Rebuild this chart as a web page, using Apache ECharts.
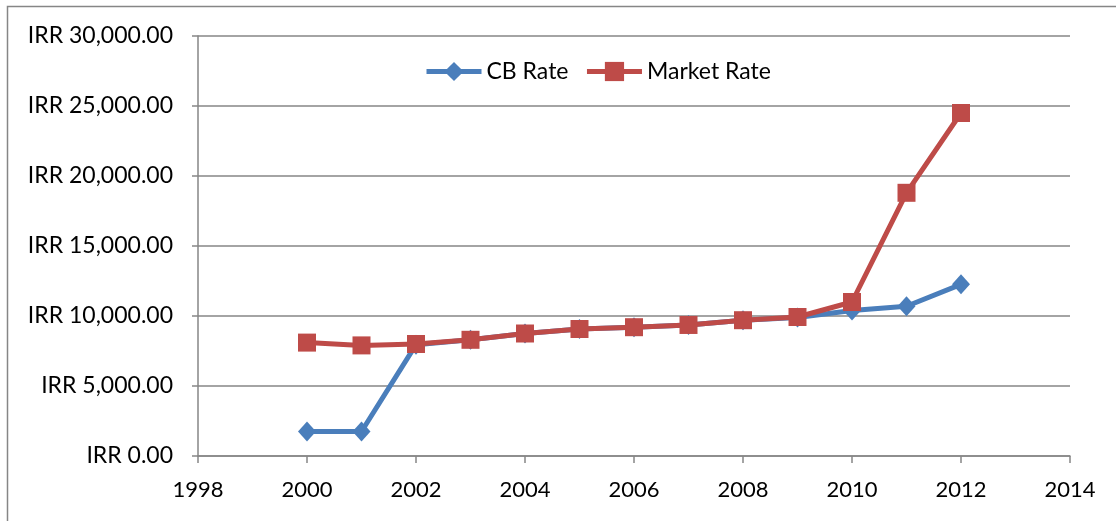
<!DOCTYPE html>
<html>
<head>
<meta charset="utf-8">
<script src="https://cdn.jsdelivr.net/npm/echarts@6/dist/echarts.min.js"></script>
<style>
  html, body { margin: 0; padding: 0; background: #fff; }
  #chart { width: 1116px; height: 521px; }
</style>
</head>
<body>
<div id="chart"></div>
<script>
var years = [2000, 2001, 2002, 2003, 2004, 2005, 2006, 2007, 2008, 2009, 2010, 2011, 2012];
var cbRate = [1750, 1750, 7950, 8300, 8750, 9070, 9200, 9360, 9700, 9900, 10400, 10700, 12260];
var marketRate = [8100, 7900, 8000, 8300, 8750, 9070, 9200, 9360, 9700, 9930, 11000, 18800, 24500];

function pairs(vals) {
  var out = [];
  for (var i = 0; i < years.length; i++) {
    out.push([years[i], vals[i]]);
  }
  return out;
}

function irr(v) {
  var s = v.toFixed(2).split(".");
  return "IRR " + s[0].replace(/\B(?=(\d{3})+(?!\d))/g, ",") + "." + s[1];
}

var chart = echarts.init(document.getElementById("chart"));
var font = "Lato, 'Open Sans', sans-serif";

chart.setOption({
  animation: false,
  textStyle: { fontFamily: font },
  graphic: [
    {
      type: "rect",
      shape: { x: 7.5, y: 6.5, width: 1120, height: 530 },
      style: { fill: "none", stroke: "#868686", lineWidth: 1.5 },
      silent: true
    }
  ],
  legend: {
    top: 55,
    left: 419,
    itemWidth: 55,
    itemHeight: 24,
    itemGap: 16,
    lineStyle: { width: 5 },
    textStyle: { fontSize: 23, color: "#000", fontFamily: font },
    data: ["CB Rate", "Market Rate"]
  },
  grid: { left: 198, right: 46, top: 36, bottom: 65 },
  xAxis: {
    type: "value",
    min: 1998,
    max: 2014,
    interval: 2,
    axisLine: { lineStyle: { color: "#868686", width: 1.5 } },
    axisTick: { show: true, length: 7, lineStyle: { color: "#868686", width: 1.5 } },
    axisLabel: { fontSize: 22, color: "#000", margin: 23, fontFamily: font, formatter: function (v) { return String(v); } },
    splitLine: { show: false }
  },
  yAxis: {
    type: "value",
    min: 0,
    max: 30000,
    interval: 5000,
    axisLine: { show: true, lineStyle: { color: "#868686", width: 1.5 } },
    axisTick: { show: true, length: 6, lineStyle: { color: "#868686", width: 1.5 } },
    axisLabel: { fontSize: 23, color: "#000", margin: 25, fontFamily: font, formatter: irr },
    splitLine: { lineStyle: { color: "#868686", width: 1.5 } }
  },
  series: [
    {
      name: "CB Rate",
      type: "line",
      data: pairs(cbRate),
      symbol: "diamond",
      symbolSize: [18, 20],
      itemStyle: { color: "#4A7EBB" },
      lineStyle: { color: "#4A7EBB", width: 5 },
      z: 2
    },
    {
      name: "Market Rate",
      type: "line",
      data: pairs(marketRate),
      symbol: "rect",
      symbolSize: 18,
      itemStyle: { color: "#BE4B48" },
      lineStyle: { color: "#BE4B48", width: 5 },
      z: 3
    }
  ]
});
</script>
</body>
</html>
